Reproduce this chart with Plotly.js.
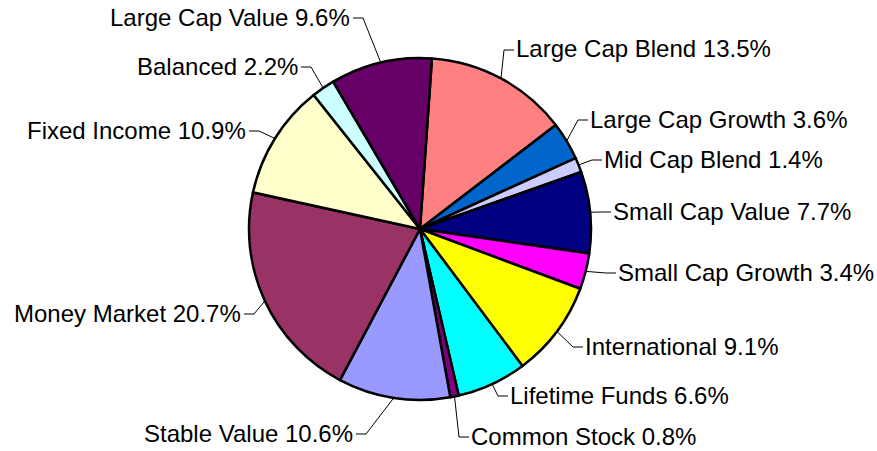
<!DOCTYPE html>
<html>
<head>
<meta charset="utf-8">
<script src="https://cdn.plot.ly/plotly-3.0.1.min.js"></script>
<style>html,body{margin:0;padding:0;background:#fff;}#chart{width:877px;height:451px;}</style>
</head>
<body>
<div id="chart"></div>
<script>
// ---- data ----
const categories = ["Large Cap Blend","Large Cap Growth","Mid Cap Blend","Small Cap Value","Small Cap Growth","International","Lifetime Funds","Common Stock","Stable Value","Money Market","Fixed Income","Balanced","Large Cap Value"];
const shares = [13.5,3.6,1.4,7.7,3.4,9.1,6.6,0.8,10.6,20.7,10.9,2.2,9.6];
const sliceColors = ["#FF8080","#0066CC","#CCCCFF","#000080","#FF00FF","#FFFF00","#00FFFF","#800080","#9999FF","#993366","#FFFFCC","#CCFFFF","#660066"];

// ---- layout (pixel positions of label texts) ----
const W = 877, H = 451;
const cx = 420, cy = 229, R = 171, ROT = 4;
const labelPx = [[517,50],[591,120],[605,160],[614,212],[619,273],[586,347],[511,396],[472,437],[352,434],[240,314],[245,131],[297,67],[349,18]];

const total = shares.reduce((a,b)=>a+b,0);
const px2x = x => x / W;
const px2y = y => 1 - y / H;

const annotations = [];
const shapes = [];
let cum = 0;
shares.forEach((v, i) => {
  const mid = (ROT + (cum + v/2) / total * 360) * Math.PI / 180;
  cum += v;
  const ex = cx + R * Math.sin(mid), ey = cy - R * Math.cos(mid);
  const [lx, ly] = labelPx[i];
  const right = lx > cx;
  const a = right ? lx - 3 : lx + 4;
  const b = right ? lx - 13 : lx + 14;
  shapes.push({type:'path', xref:'paper', yref:'paper',
    path:`M ${px2x(a)} ${px2y(ly)} L ${px2x(b)} ${px2y(ly)} L ${px2x(ex)} ${px2y(ey)}`,
    line:{color:'#000', width:1}});
  annotations.push({xref:'paper', yref:'paper', x:px2x(lx), y:px2y(ly),
    xanchor: right ? 'left' : 'right', yanchor:'middle', showarrow:false,
    xshift: right ? -3 : 3, yshift: 1,
    text: categories[i] + ' ' + v.toFixed(1) + '%',
    font:{family:'Liberation Sans, Arial, sans-serif', size:24, color:'#000'}});
});

const trace = {
  type:'pie', labels:categories, values:shares, sort:false, direction:'clockwise',
  rotation:ROT, marker:{colors:sliceColors, line:{color:'#000', width:2.5}},
  textinfo:'none', hoverinfo:'none', showlegend:false,
  domain:{x:[(cx-R)/W,(cx+R)/W], y:[1-(cy+R)/H, 1-(cy-R)/H]}
};

Plotly.newPlot('chart', [trace], {
  width:W, height:H, margin:{l:0,r:0,t:0,b:0},
  paper_bgcolor:'#fff', plot_bgcolor:'#fff',
  annotations, shapes
}, {staticPlot:true});
</script>
</body>
</html>
